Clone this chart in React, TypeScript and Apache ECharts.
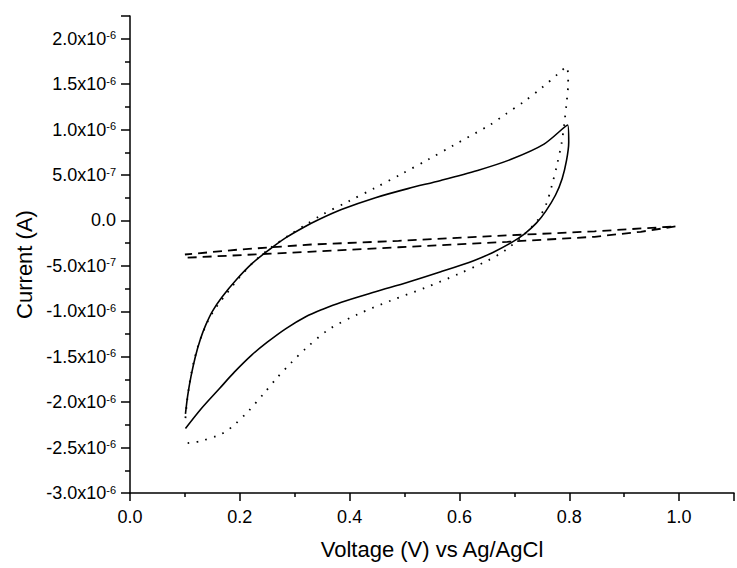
import React, { useEffect, useRef } from "react";
import * as echarts from "echarts";

// Potential (V) vs current (µA; converted to A for plotting)
const solidForward: [number, number][] = [
  [0.101, -2.29], [0.13, -2.07], [0.163, -1.85], [0.19, -1.67], [0.222, -1.48],
  [0.25, -1.34], [0.284, -1.19], [0.32, -1.06], [0.35, -0.98], [0.385, -0.9],
  [0.447, -0.785], [0.506, -0.68], [0.566, -0.565], [0.627, -0.44], [0.66, -0.355],
  [0.693, -0.25], [0.718, -0.15], [0.74, -0.03], [0.757, 0.1], [0.775, 0.28],
  [0.787, 0.46], [0.795, 0.66], [0.799, 0.86], [0.797, 1.05],
];
const solidReverse: [number, number][] = [
  [0.797, 1.05], [0.754, 0.84], [0.693, 0.67], [0.633, 0.55], [0.566, 0.44],
  [0.506, 0.35], [0.447, 0.25], [0.385, 0.12], [0.344, 0.01], [0.315, -0.08],
  [0.284, -0.19], [0.254, -0.32], [0.223, -0.47], [0.194, -0.65], [0.168, -0.84],
  [0.15, -1.0], [0.138, -1.15], [0.128, -1.31], [0.119, -1.5], [0.111, -1.72],
  [0.105, -1.93], [0.101, -2.13],
];
const dottedForward: [number, number][] = [
  [0.105, -2.45], [0.127, -2.43], [0.159, -2.37], [0.175, -2.32], [0.19, -2.25],
  [0.217, -2.09], [0.243, -1.91], [0.268, -1.73], [0.293, -1.57], [0.32, -1.41],
  [0.362, -1.2], [0.416, -1.03], [0.476, -0.88], [0.538, -0.74], [0.598, -0.59],
  [0.652, -0.44], [0.683, -0.33], [0.715, -0.17], [0.742, 0.0], [0.758, 0.18],
  [0.769, 0.4], [0.778, 0.62], [0.786, 0.85], [0.791, 1.07], [0.795, 1.29],
  [0.798, 1.51], [0.795, 1.69],
];
const dottedReverse: [number, number][] = [
  [0.795, 1.69], [0.779, 1.61], [0.75, 1.46], [0.718, 1.31], [0.684, 1.17],
  [0.655, 1.05], [0.59, 0.83], [0.543, 0.67], [0.494, 0.51], [0.447, 0.36],
  [0.398, 0.21], [0.349, 0.06], [0.322, -0.04], [0.293, -0.15], [0.254, -0.31],
  [0.223, -0.47], [0.199, -0.63], [0.187, -0.72], [0.174, -0.82], [0.161, -0.92],
  [0.15, -1.02], [0.14, -1.13], [0.131, -1.26], [0.124, -1.38], [0.118, -1.51],
  [0.112, -1.67], [0.107, -1.85], [0.103, -2.04], [0.1, -2.25],
];
const dashedForward: [number, number][] = [
  [0.105, -0.41], [0.325, -0.345], [0.489, -0.295], [0.687, -0.235],
  [0.846, -0.18], [0.93, -0.125], [0.995, -0.065],
];
const dashedReverse: [number, number][] = [
  [0.995, -0.065], [0.846, -0.12], [0.687, -0.165], [0.489, -0.225],
  [0.33, -0.265], [0.2, -0.32], [0.1, -0.375],
];

const xTickValues = [0, 0.2, 0.4, 0.6, 0.8, 1.0];
const xTickLabels = ["0.0", "0.2", "0.4", "0.6", "0.8", "1.0"];
const yTickValues = [-3e-6, -2.5e-6, -2e-6, -1.5e-6, -1e-6, -5e-7, 0, 5e-7, 1e-6, 1.5e-6, 2e-6];
const yTickLabels = [
  "-3.0x10^-6", "-2.5x10^-6", "-2.0x10^-6", "-1.5x10^-6", "-1.0x10^-6",
  "-5.0x10^-7", "0.0", "5.0x10^-7", "1.0x10^-6", "1.5x10^-6", "2.0x10^-6",
];

const xTitle = "Voltage (V) vs Ag/AgCl";
const yTitle = "Current (A)";

const FONT = '"Liberation Sans", Arial, Helvetica, sans-serif';
const toAmps = (pts: [number, number][]) => pts.map(([x, y]) => [x, y * 1e-6]);

export default function App() {
  const ref = useRef<HTMLDivElement>(null);
  useEffect(() => {
    if (!ref.current) return;
    const chart = echarts.init(ref.current, undefined, { renderer: "svg" });
    const axisColor = "#000";
    const findIdx = (vals: number[], v: number, eps: number) =>
      vals.findIndex((t) => Math.abs(t - v) < eps);
    chart.setOption({
      animation: false,
      backgroundColor: "#fff",
      grid: { left: 130, right: 0, top: 16, bottom: 75, containLabel: false },
      xAxis: {
        type: "value",
        min: 0,
        max: 1.1,
        interval: 0.2,
        name: xTitle,
        nameLocation: "middle",
        nameGap: 45,
        nameTextStyle: { fontFamily: FONT, fontSize: 22, color: "#000" },
        axisLine: { show: true, onZero: false, lineStyle: { color: axisColor, width: 1.5 } },
        axisTick: { show: true, inside: false, length: 8, lineStyle: { color: axisColor, width: 1.5 } },
        minorTick: { show: true, splitNumber: 2, length: 4, lineStyle: { color: axisColor, width: 1.5 } },
        splitLine: { show: false },
        minorSplitLine: { show: false },
        axisLabel: {
          margin: 15,
          fontFamily: FONT,
          fontSize: 18,
          color: "#000",
          formatter: (v: number) => {
            const i = findIdx(xTickValues, v, 1e-6);
            return i >= 0 ? xTickLabels[i] : "";
          },
        },
      },
      yAxis: {
        type: "value",
        min: -3e-6,
        max: 2.25e-6,
        interval: 5e-7,
        name: yTitle,
        nameLocation: "middle",
        nameGap: 91,
        nameRotate: 90,
        nameTextStyle: { fontFamily: FONT, fontSize: 22, color: "#000", padding: [0, 20, 0, 0] },
        axisLine: { show: true, onZero: false, lineStyle: { color: axisColor, width: 1.5 } },
        axisTick: { show: true, inside: false, length: 9, lineStyle: { color: axisColor, width: 1.5 } },
        minorTick: { show: true, splitNumber: 2, length: 5, lineStyle: { color: axisColor, width: 1.5 } },
        splitLine: { show: false },
        minorSplitLine: { show: false },
        axisLabel: {
          margin: 14,
          fontFamily: FONT,
          color: "#000",
          formatter: (v: number) => {
            const i = findIdx(yTickValues, v, 1e-9);
            if (i < 0) return "";
            const [m, e] = yTickLabels[i].split("^");
            return e ? `{m|${m}}{e|${e}}` : `{m|${m}}`;
          },
          rich: {
            m: { fontFamily: FONT, fontSize: 18, color: "#000" },
            e: { fontFamily: FONT, fontSize: 11, color: "#000", verticalAlign: "top" },
          },
        },
      },
      series: [
        {
          type: "line",
          data: toAmps([...solidForward, ...solidReverse.slice(1)]),
          symbol: "none",
          smooth: 0.3,
          lineStyle: { color: "#000", width: 1.6, type: "solid" },
        },
        {
          type: "line",
          data: toAmps([...dottedForward, ...dottedReverse.slice(1)]),
          symbol: "none",
          smooth: 0.3,
          lineStyle: { color: "#000", width: 1.8, type: [1.6, 7.4] },
        },
        {
          type: "line",
          data: toAmps([...dashedForward, ...dashedReverse.slice(1)]),
          symbol: "none",
          smooth: false,
          lineStyle: { color: "#000", width: 1.8, type: [9, 6] },
        },
      ],
    });
    return () => chart.dispose();
  }, []);
  return (
    <div
      ref={ref}
      style={{ position: "fixed", left: 0, top: 0, width: 737, height: 568, background: "#fff" }}
    />
  );
}
